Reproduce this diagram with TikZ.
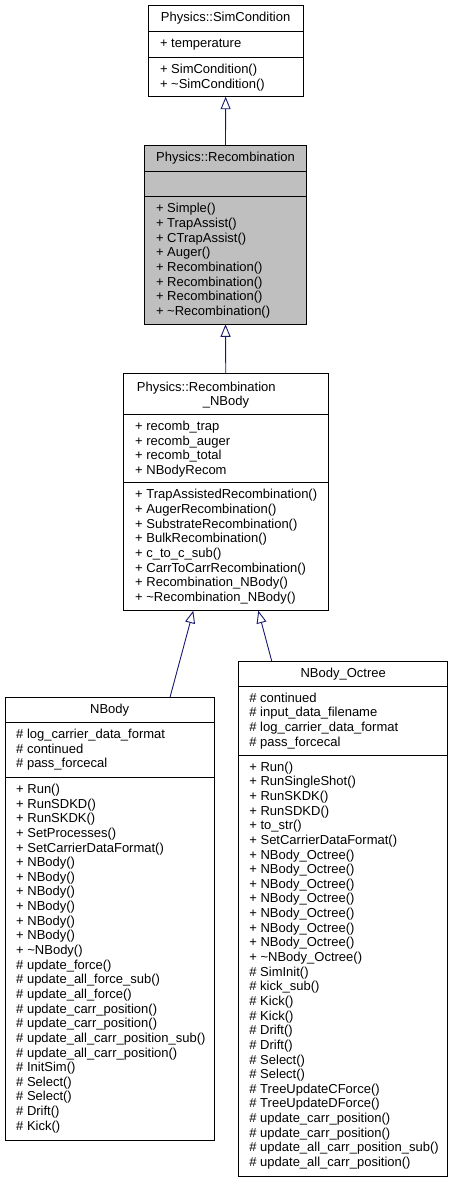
\documentclass[tikz,border=0pt]{standalone}
\usepackage{fontspec}
\setmainfont{Liberation Sans}
\usetikzlibrary{arrows.meta}
\definecolor{edgeblue}{HTML}{191970}
\definecolor{curgray}{HTML}{BFBFBF}
\tikzset{
  classbox/.style={draw=black, line width=0.9pt, fill=white, inner sep=0pt, outer sep=0pt, anchor=north west},
  sepline/.style={draw=black, line width=0.9pt},
  member/.style={anchor=base west, inner sep=0pt, font=\fontsize{13}{14.64}\selectfont},
  ctitle/.style={anchor=base, inner sep=0pt, font=\fontsize{13}{14.64}\selectfont},
  inherit/.style={draw=edgeblue, line width=0.9pt, -{Triangle[open, length=12.5pt, width=10pt, fill=white]}},
}
\begin{document}
\begin{tikzpicture}[x=1pt, y=-1pt]
\useasboundingbox (0,0) rectangle (453,1183);

% ---------- Physics::SimCondition ----------
\node[classbox, minimum width=154.7pt, minimum height=91.7pt] (simc) at (148.3,5) {};
\draw[sepline] ([yshift=-26.7pt]simc.north west) -- ([yshift=-26.7pt]simc.north east);
\draw[sepline] ([yshift=-52.3pt]simc.north west) -- ([yshift=-52.3pt]simc.north east);
\node[ctitle] (simc-t) at (225.65,21.2) {Physics::SimCondition};
\foreach \mtext [count=\i from 0] in {+ temperature}
  \node[member] (simc-a\i) at (159.8,{47.9+\i*14.64}) {\mtext};
\foreach \mtext [count=\i from 0] in {+ SimCondition(), + \textasciitilde{}SimCondition()}
  \node[member] (simc-m\i) at (159.8,{73.5+\i*14.64}) {\mtext};

% ---------- Physics::Recombination ----------
\node[classbox, fill=curgray, minimum width=162.4pt, minimum height=179.3pt] (recomb) at (144.3,145) {};
\draw[sepline] ([yshift=-26.7pt]recomb.north west) -- ([yshift=-26.7pt]recomb.north east);
\draw[sepline] ([yshift=-51.7pt]recomb.north west) -- ([yshift=-51.7pt]recomb.north east);
\node[ctitle] (recomb-t) at (225.5,161.2) {Physics::Recombination};
\foreach \mtext [count=\i from 0] in {+ Simple(), + TrapAssist(), + CTrapAssist(), + Auger(),
    + Recombination(), + Recombination(), + Recombination(), + \textasciitilde{}Recombination()}
  \node[member] (recomb-m\i) at (155.8,{212.9+\i*14.64}) {\mtext};

% ---------- Physics::Recombination_NBody ----------
\node[classbox, minimum width=204.5pt, minimum height=237.4pt] (rnb) at (123.5,373.3) {};
\draw[sepline] ([yshift=-41pt]rnb.north west) -- ([yshift=-41pt]rnb.north east);
\draw[sepline] ([yshift=-109.4pt]rnb.north west) -- ([yshift=-109.4pt]rnb.north east);
\node[member] (rnb-t1) at (136.7,391.0) {Physics::Recombination};
\node[ctitle] (rnb-t2) at (226,405.6) {\_NBody};
\foreach \mtext [count=\i from 0] in {+ recomb\_trap, + recomb\_auger, + recomb\_total, + NBodyRecom}
  \node[member] (rnb-a\i) at (135,{430.5+\i*14.64}) {\mtext};
\foreach \mtext [count=\i from 0] in {+ TrapAssistedRecombination(), + AugerRecombination(),
    + SubstrateRecombination(), + BulkRecombination(), + c\_to\_c\_sub(),
    + CarrToCarrRecombination(), + Recombination\_NBody(), + \textasciitilde{}Recombination\_NBody()}
  \node[member] (rnb-m\i) at (135,{498.9+\i*14.64}) {\mtext};

% ---------- NBody ----------
\node[classbox, minimum width=209.3pt, minimum height=442.7pt] (nbody) at (5,697.3) {};
\draw[sepline] ([yshift=-25pt]nbody.north west) -- ([yshift=-25pt]nbody.north east);
\draw[sepline] ([yshift=-80pt]nbody.north west) -- ([yshift=-80pt]nbody.north east);
\node[ctitle] (nbody-t) at (109.65,713.5) {NBody};
\foreach \mtext [count=\i from 0] in {\# log\_carrier\_data\_format, \# continued, \# pass\_forcecal}
  \node[member] (nbody-a\i) at (16,{738.5+\i*14.64}) {\mtext};
\foreach \mtext [count=\i from 0] in {+ Run(), + RunSDKD(), + RunSKDK(), + SetProcesses(),
    + SetCarrierDataFormat(), + NBody(), + NBody(), + NBody(), + NBody(), + NBody(), + NBody(),
    + \textasciitilde{}NBody(), \# update\_force(), \# update\_all\_force\_sub(), \# update\_all\_force(),
    \# update\_carr\_position(), \# update\_carr\_position(), \# update\_all\_carr\_position\_sub(),
    \# update\_all\_carr\_position(), \# InitSim(), \# Select(), \# Select(), \# Drift(), \# Kick()}
  \node[member] (nbody-m\i) at (16,{793.5+\i*14.64}) {\mtext};

% ---------- NBody_Octree ----------
\node[classbox, minimum width=209pt, minimum height=515.7pt] (octree) at (238.7,661) {};
\draw[sepline] ([yshift=-25pt]octree.north west) -- ([yshift=-25pt]octree.north east);
\draw[sepline] ([yshift=-94pt]octree.north west) -- ([yshift=-94pt]octree.north east);
\node[ctitle] (octree-t) at (343.2,677.2) {NBody\_Octree};
\foreach \mtext [count=\i from 0] in {\# continued, \# input\_data\_filename,
    \# log\_carrier\_data\_format, \# pass\_forcecal}
  \node[member] (octree-a\i) at (249.2,{702.2+\i*14.64}) {\mtext};
\foreach \mtext [count=\i from 0] in {+ Run(), + RunSingleShot(), + RunSKDK(), + RunSDKD(),
    + to\_str(), + SetCarrierDataFormat(), + NBody\_Octree(), + NBody\_Octree(), + NBody\_Octree(),
    + NBody\_Octree(), + NBody\_Octree(), + NBody\_Octree(), + NBody\_Octree(),
    + \textasciitilde{}NBody\_Octree(), \# SimInit(), \# kick\_sub(), \# Kick(), \# Kick(),
    \# Drift(), \# Drift(), \# Select(), \# Select(), \# TreeUpdateCForce(), \# TreeUpdateDForce(),
    \# update\_carr\_position(), \# update\_carr\_position(), \# update\_all\_carr\_position\_sub(),
    \# update\_all\_carr\_position()}
  \node[member] (octree-m\i) at (249.2,{771.2+\i*14.64}) {\mtext};

% ---------- inheritance edges ----------
\draw[inherit] (recomb.north) -- (simc.south);
\draw[inherit] (rnb.north) -- (recomb.south);
\draw[inherit] ([xshift=60.35pt]nbody.north) -- ([xshift=-32.45pt]rnb.south);
\draw[inherit] ([xshift=-71.5pt]octree.north) -- ([xshift=32.55pt]rnb.south);
\end{tikzpicture}
\end{document}
